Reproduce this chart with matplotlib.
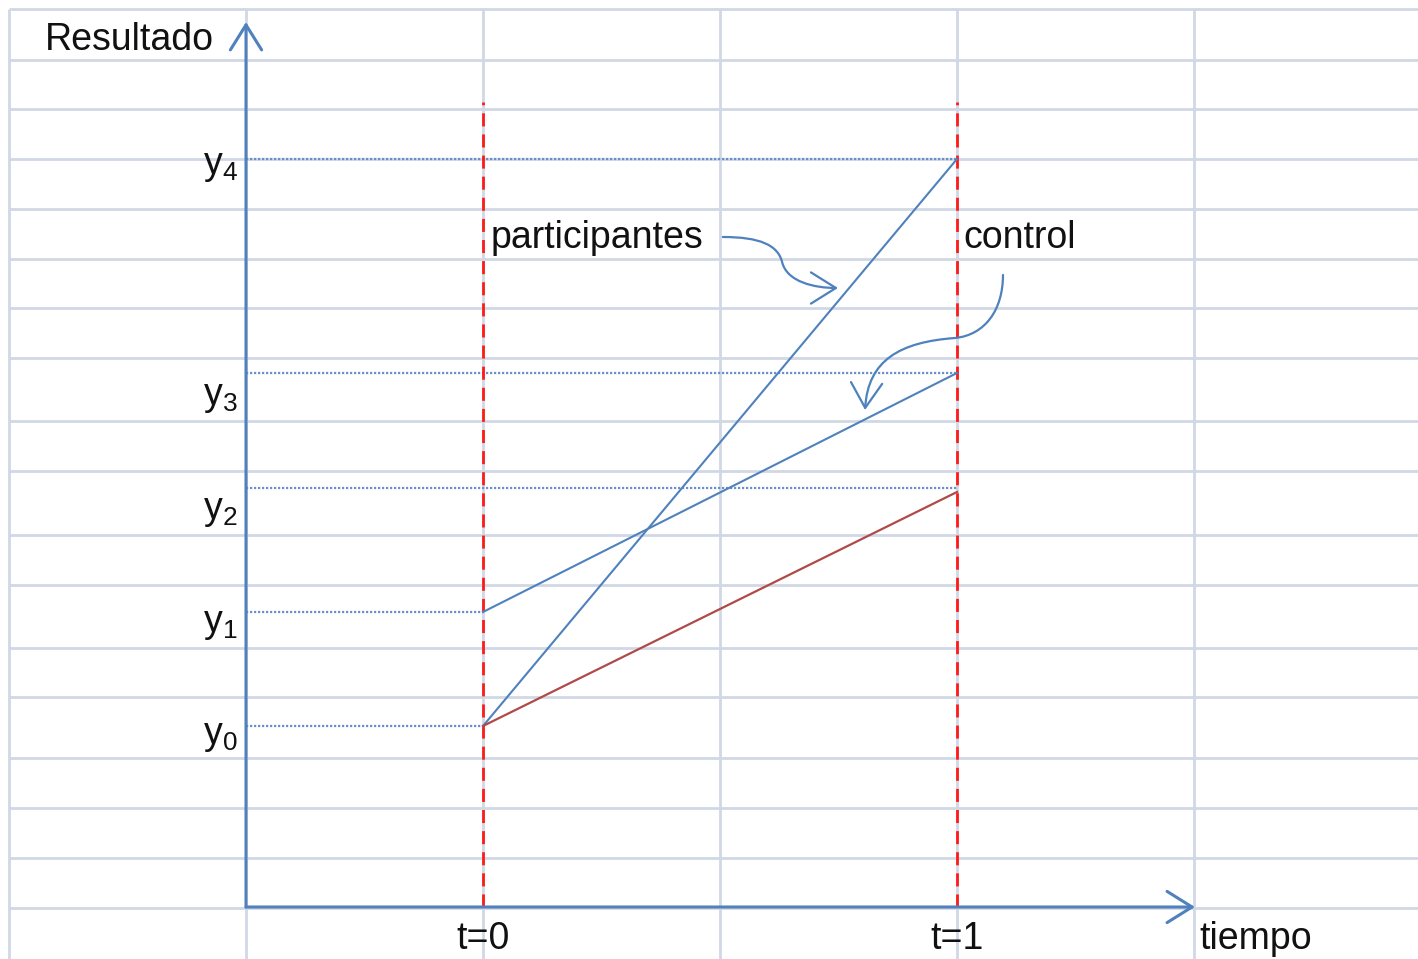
import matplotlib
matplotlib.use("Agg")
import matplotlib.pyplot as plt
from matplotlib.patches import FancyArrowPatch
from matplotlib.path import Path

plt.rcParams["font.family"] = ["Liberation Sans", "DejaVu Sans"]

# time points (t=0, t=1) and outcome levels y0..y4 (arbitrary units, axis at 0)
times = [0.0, 1.0]
level_names = ["y0", "y1", "y2", "y3", "y4"]
levels = [1.81, 2.95, 4.19, 5.34, 7.48]
label_baselines = [1.63, 2.75, 3.88, 5.02, 7.33]

participants = [levels[0], levels[4]]
control = [levels[1], levels[3]]
counterfactual = [levels[0], 4.15]

# spreadsheet background grid
grid_cols = [-1.0, -0.5, 0.0, 0.5, 1.0, 1.5]
grid_rows = [8.98, 8.47, 7.98, 7.48, 6.98, 6.48, 5.99, 5.49, 4.86, 4.36,
             3.72, 3.22, 2.59, 2.10, 1.49, 0.99, 0.49, -0.01]

x_origin, y_origin = -0.5, 0.0
x_end, y_end = 1.502, 8.85

BLUE = "#4f81bd"
DOT = "#6990c8"
GRID = "#d0d7e5"
RED = "#ff1a1a"
DARKRED = "#b04a48"

fig = plt.figure(figsize=(14.18, 9.59), dpi=100)
ax = fig.add_axes([0, 0, 1, 1])
ax.set_xlim(-483 / 474, (1418 - 483) / 474)
ax.set_ylim(-0.52, 9.07)
ax.axis("off")

top, bottom = grid_rows[0], ax.get_ylim()[0]
for c in grid_cols:
    ax.plot([c, c], [bottom, top], color=GRID, lw=2.0, zorder=0,
            solid_capstyle="butt")
for r in grid_rows:
    ax.plot([grid_cols[0], ax.get_xlim()[1]], [r, r], color=GRID, lw=2.0,
            zorder=0, solid_capstyle="butt")

# dotted guides from the vertical axis to each level
for i, lv in enumerate(levels):
    stop = times[0] if i < 2 else times[1]
    ax.plot([x_origin, stop], [lv, lv], color=DOT, lw=1.6,
            linestyle=(0, (1, 0.8)), zorder=2)

# red dashed verticals at t=0 and t=1
for t in times:
    ax.plot([t, t], [y_origin, 8.05], color=RED, lw=2.0,
            linestyle=(0, (4.7, 2.9)), zorder=3)

ax.plot(times, participants, color=BLUE, lw=1.5, zorder=4)
ax.plot(times, control, color=BLUE, lw=1.5, zorder=4)
ax.plot(times, counterfactual, color=DARKRED, lw=1.6, zorder=4)

# axes with open arrow heads
for end in [(x_origin, y_end), (x_end, y_origin)]:
    ax.add_patch(FancyArrowPatch((x_origin, y_origin), end,
                                 arrowstyle="->,head_length=0.4,head_width=0.25",
                                 mutation_scale=45, color=BLUE, lw=2.2,
                                 shrinkA=0, shrinkB=0, zorder=5))

# curved pointers from the labels
codes = [Path.MOVETO] + [Path.CURVE4] * 6
p_path = Path([(0.506, 6.70), (0.584, 6.70), (0.622, 6.62), (0.631, 6.45),
               (0.641, 6.25), (0.700, 6.19), (0.749, 6.19)], codes)
c_path = Path([(1.097, 6.32), (1.097, 5.97), (1.059, 5.72), (0.996, 5.69),
               (0.880, 5.65), (0.812, 5.47), (0.806, 4.97)], codes)
for pth in [p_path, c_path]:
    ax.add_patch(FancyArrowPatch(path=pth,
                                 arrowstyle="->,head_length=0.4,head_width=0.25",
                                 mutation_scale=45, color=BLUE, lw=1.6,
                                 zorder=5))

fs = 27
ax.text(-0.924, 8.57, "Resultado", fontsize=fs, va="baseline", ha="left",
        color="#111111")
ax.text(1.511, -0.42, "tiempo", fontsize=fs, va="baseline", ha="left",
        color="#111111")
for t in times:
    ax.text(t, -0.42, f"t={int(t)}", fontsize=fs, va="baseline", ha="center",
            color="#111111")
ax.text(0.017, 6.59, "participantes", fontsize=fs, va="baseline", ha="left",
        color="#111111")
ax.text(1.013, 6.59, "control", fontsize=fs, va="baseline", ha="left",
        color="#111111")
for name, yb in zip(level_names, label_baselines):
    ax.text(-0.517, yb, r"y$\mathregular{_" + name[1] + "}$", fontsize=fs,
            va="baseline", ha="right", color="#111111")

fig.savefig("out.png", dpi=100)
